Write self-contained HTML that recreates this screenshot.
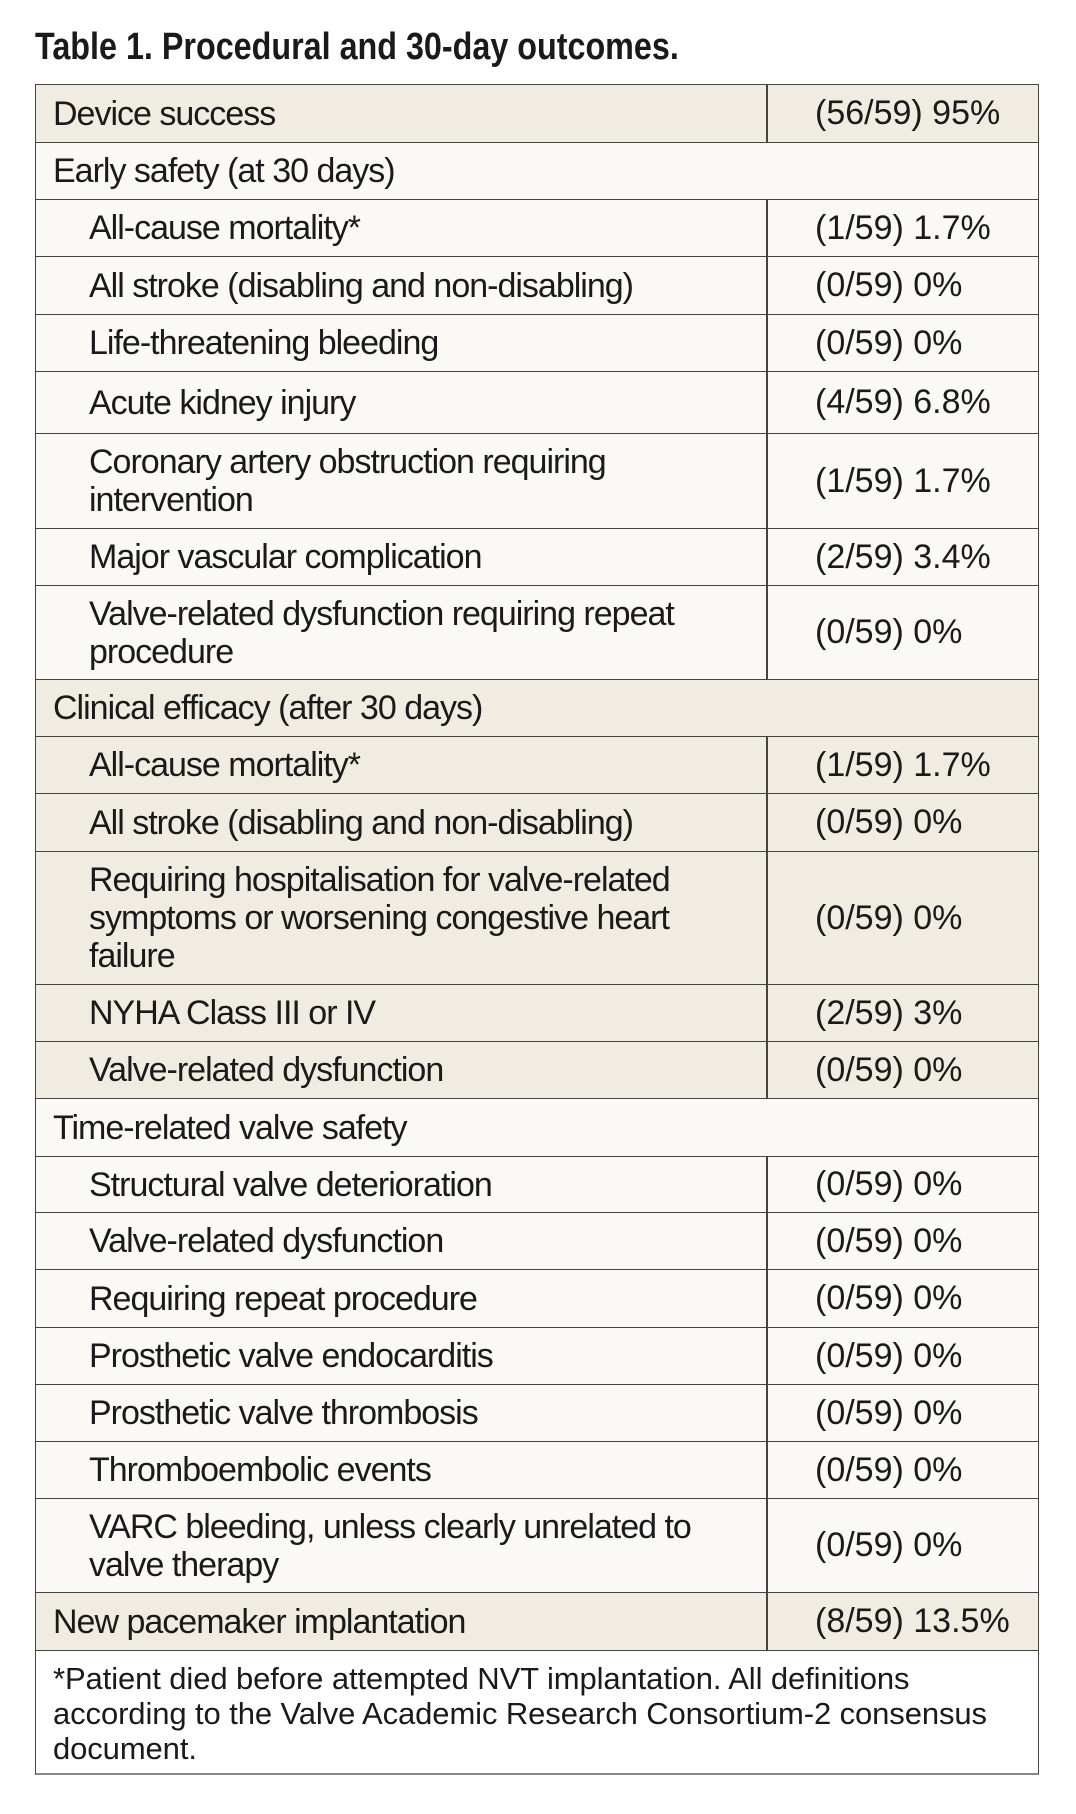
<!DOCTYPE html>
<html><head><meta charset="utf-8"><style>
*{margin:0;padding:0;box-sizing:border-box}
body{width:1076px;height:1814px;background:#fff;position:relative;overflow:hidden;font-family:"Liberation Sans Narrow","Liberation Sans",sans-serif;color:#1a1a1a}
.t{position:absolute;left:35px;top:26px;font-weight:bold;font-size:38px;white-space:nowrap;transform:scaleX(0.85);transform-origin:left top}
.r{position:absolute;left:35px;width:1004px;border:1.5px solid #444;border-bottom:none;display:flex}
.l{position:absolute;top:0;bottom:0;left:0;width:732px;display:flex;align-items:center;font-size:34px;line-height:38px;padding-left:17px;border-right:2px solid #444;letter-spacing:-1.0px;white-space:nowrap}
.l.i{padding-left:53px}
.l.s{width:1000px;border-right:none}
.v{position:absolute;top:0;bottom:0;left:732px;right:0;display:flex;align-items:center;padding-left:47px;font-size:34px;white-space:nowrap;letter-spacing:0px}
.b{background:#f0ece1}.w{background:#faf9f5}
.f{position:absolute;left:35px;top:1650px;width:1004px;height:125px;border:1.5px solid #444;border-bottom:2px solid #888;background:#fff;font-size:31px;line-height:35px;padding:10px 17px;white-space:nowrap;letter-spacing:-0.1px}
</style></head><body>
<div class="t">Table 1. Procedural and 30-day outcomes.</div>
<div class="r b" style="top:84px;height:58px"><div class="l">Device success</div><div class="v">(56/59) 95%</div></div>
<div class="r w" style="top:142px;height:57px"><div class="l s">Early safety (at 30 days)</div></div>
<div class="r w" style="top:199px;height:57px"><div class="l i">All-cause mortality*</div><div class="v">(1/59) 1.7%</div></div>
<div class="r w" style="top:256px;height:58px"><div class="l i">All stroke (disabling and non-disabling)</div><div class="v">(0/59) 0%</div></div>
<div class="r w" style="top:314px;height:57px"><div class="l i">Life-threatening bleeding</div><div class="v">(0/59) 0%</div></div>
<div class="r w" style="top:371px;height:62px"><div class="l i">Acute kidney injury</div><div class="v">(4/59) 6.8%</div></div>
<div class="r w" style="top:433px;height:95px"><div class="l i">Coronary artery obstruction requiring<br>intervention</div><div class="v">(1/59) 1.7%</div></div>
<div class="r w" style="top:528px;height:57px"><div class="l i">Major vascular complication</div><div class="v">(2/59) 3.4%</div></div>
<div class="r w" style="top:585px;height:94px"><div class="l i">Valve-related dysfunction requiring repeat<br>procedure</div><div class="v">(0/59) 0%</div></div>
<div class="r b" style="top:679px;height:57px"><div class="l s">Clinical efficacy (after 30 days)</div></div>
<div class="r b" style="top:736px;height:57px"><div class="l i">All-cause mortality*</div><div class="v">(1/59) 1.7%</div></div>
<div class="r b" style="top:793px;height:58px"><div class="l i">All stroke (disabling and non-disabling)</div><div class="v">(0/59) 0%</div></div>
<div class="r b" style="top:851px;height:133px"><div class="l i">Requiring hospitalisation for valve-related<br>symptoms or worsening congestive heart<br>failure</div><div class="v">(0/59) 0%</div></div>
<div class="r b" style="top:984px;height:57px"><div class="l i">NYHA Class III or IV</div><div class="v">(2/59) 3%</div></div>
<div class="r b" style="top:1041px;height:57px"><div class="l i">Valve-related dysfunction</div><div class="v">(0/59) 0%</div></div>
<div class="r w" style="top:1098px;height:58px"><div class="l s">Time-related valve safety</div></div>
<div class="r w" style="top:1156px;height:56px"><div class="l i">Structural valve deterioration</div><div class="v">(0/59) 0%</div></div>
<div class="r w" style="top:1212px;height:57px"><div class="l i">Valve-related dysfunction</div><div class="v">(0/59) 0%</div></div>
<div class="r w" style="top:1269px;height:58px"><div class="l i">Requiring repeat procedure</div><div class="v">(0/59) 0%</div></div>
<div class="r w" style="top:1327px;height:57px"><div class="l i">Prosthetic valve endocarditis</div><div class="v">(0/59) 0%</div></div>
<div class="r w" style="top:1384px;height:57px"><div class="l i">Prosthetic valve thrombosis</div><div class="v">(0/59) 0%</div></div>
<div class="r w" style="top:1441px;height:57px"><div class="l i">Thromboembolic events</div><div class="v">(0/59) 0%</div></div>
<div class="r w" style="top:1498px;height:94px"><div class="l i">VARC bleeding, unless clearly unrelated to<br>valve therapy</div><div class="v">(0/59) 0%</div></div>
<div class="r b" style="top:1592px;height:58px"><div class="l">New pacemaker implantation</div><div class="v">(8/59) 13.5%</div></div>
<div class="f">*Patient died before attempted NVT implantation. All definitions<br>according to the Valve Academic Research Consortium-2 consensus<br>document.</div>
</body></html>
